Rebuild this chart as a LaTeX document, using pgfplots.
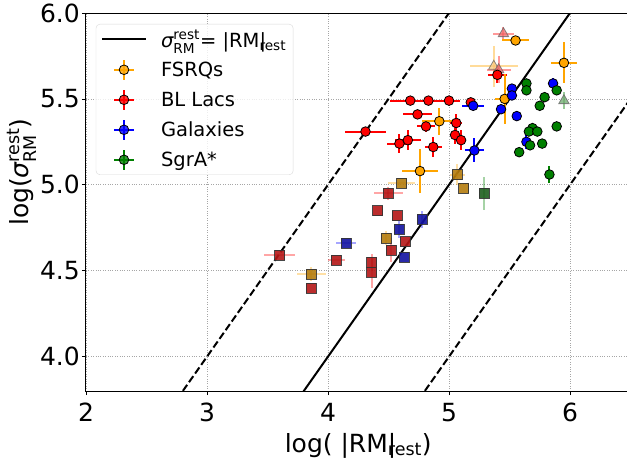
\documentclass[border=0pt]{standalone}
\usepackage{amsmath}
\usepackage{fontspec}
\setmainfont{DejaVu Sans}
\usepackage{pgfplots}
\pgfplotsset{compat=1.18}

\definecolor{mplorange}{RGB}{255,165,0}
\definecolor{mplgreen}{RGB}{0,128,0}
\definecolor{sqred}{RGB}{180,22,22}
\definecolor{sqorange}{RGB}{180,124,14}
\definecolor{sqblue}{RGB}{18,18,160}
\definecolor{sqgreen}{RGB}{30,95,30}
\definecolor{trired}{RGB}{240,110,110}
\definecolor{triorange}{RGB}{250,200,125}
\definecolor{trigreen}{RGB}{110,170,110}

\pgfplotsset{
  circ/.style={only marks, mark=*, mark size=4.8pt,
    mark options={draw=black, fill=#1, line width=0.8pt},
    error bars/.cd, x dir=both, y dir=both, x explicit, y explicit,
    error mark=none, error bar style={#1, line width=2pt}, /pgfplots/.cd},
  sq/.style 2 args={only marks, mark=square*, mark size=5pt,
    mark options={draw=black!80, fill=#1, line width=0.8pt, opacity=0.9},
    error bars/.cd, x dir=both, y dir=both, x explicit, y explicit,
    error mark=none, error bar style={#2, opacity=0.35, line width=2pt}, /pgfplots/.cd},
  tri/.style 2 args={only marks, mark=triangle*, mark size=6pt,
    mark options={draw=black!60, fill=#1, line width=0.8pt, opacity=0.75},
    error bars/.cd, x dir=both, y dir=both, x explicit, y explicit,
    error mark=none, error bar style={#2, opacity=0.4, line width=2pt}, /pgfplots/.cd},
  lineleg/.style={legend image code/.code={
    \draw[black, line width=2pt] (0pt,0pt) -- (44pt,0pt);}},
  ptleg/.style={legend image code/.code={
    \draw[#1, line width=2pt] (12pt,0pt) -- (32pt,0pt) (22pt,-10pt) -- (22pt,10pt);
    \draw[black, fill=#1, line width=0.8pt] (22pt,0pt) circle (4.8pt);}},
}
\newcommand{\rmrest}{|RM\rlap{|}$_{\text{rest}}$}

\begin{document}
\begin{tikzpicture}
\begin{axis}[
  scale only axis, width=544.5pt, height=378pt,
  xmin=2, xmax=6.5, ymin=3.8, ymax=6.0,
  xtick={2,3,4,5,6}, ytick={4.0,4.5,5.0,5.5,6.0},
  yticklabel style={/pgf/number format/.cd, fixed, fixed zerofill, precision=1},
  /pgf/number format/assume math mode=true,
  tick label style={font=\fontsize{25}{30}\selectfont, inner sep=0pt},
  xticklabel shift=8pt, yticklabel shift=2pt,
  tick align=outside, tick pos=left, major tick length=4pt,
  tick style={black, line width=0.8pt},
  axis line style={line width=1pt},
  grid=major, grid style={dotted, gray!70, line width=0.8pt},
  xlabel={log( \rmrest)},
  ylabel={log({\itshape σ}$^{\text{rest}}_{\text{RM}}$)},
  xlabel style={font=\fontsize{25}{30}\selectfont, at={(axis description cs:0.5,-0.1614)}, anchor=base},
  ylabel style={font=\fontsize{25}{30}\selectfont, at={(axis description cs:-0.1175,0.579)}, anchor=center},
  legend style={at={(axis description cs:0.018,0.971)}, anchor=north west,
    font=\fontsize{19.5}{23}\selectfont, draw=black!15, rounded corners=4pt,
    fill=white, fill opacity=0.8, text opacity=1,
    inner xsep=5pt, inner ysep=4pt, row sep=8pt,
    nodes={inner sep=2pt},
    /tikz/every odd column/.append style={column sep=12pt}},
  legend cell align=left,
]
\addlegendimage{lineleg}
\addlegendentry{{\itshape σ}$^{\text{rest}}_{\text{RM}}$= \rmrest}
\addlegendimage{ptleg=mplorange}
\addlegendentry{FSRQs}
\addlegendimage{ptleg=red}
\addlegendentry{BL Lacs}
\addlegendimage{ptleg=blue}
\addlegendentry{Galaxies}
\addlegendimage{ptleg=mplgreen}
\addlegendentry{SgrA*}

% reference lines
\addplot[black, line width=2pt, forget plot] coordinates {(3.7,3.7) (6.6,6.6)};
\addplot[black, line width=2pt, dash pattern=on 7.4pt off 3.2pt, forget plot] coordinates {(2.7,3.7) (5.1,6.1)};
\addplot[black, line width=2pt, dash pattern=on 7.4pt off 3.2pt, forget plot] coordinates {(4.7,3.7) (6.6,5.6)};

% squares
\addplot[forget plot, sq={sqred}{red}] coordinates {
 (3.60,4.59) +- (0.13,0) (3.86,4.40) +- (0,0) (4.07,4.56) +- (0.07,0)
 (4.36,4.55) +- (0,0.05) (4.36,4.49) +- (0,0.09) (4.41,4.85) +- (0,0)
 (4.50,4.95) +- (0.12,0.04) (4.57,4.82) +- (0,0) (4.64,4.67) +- (0,0)
 (4.52,4.62) +- (0,0.07)};
\addplot[forget plot, sq={sqorange}{mplorange}] coordinates {
 (3.86,4.48) +- (0.12,0.04) (4.61,5.01) +- (0.11,0) (5.07,5.06) +- (0.06,0.06)
 (5.12,4.98) +- (0,0) (4.48,4.69) +- (0,0.04)};
\addplot[forget plot, sq={sqblue}{blue}] coordinates {
 (4.15,4.66) +- (0.085,0) (4.59,4.74) +- (0,0.05) (4.78,4.80) +- (0,0.05)
 (4.63,4.58) +- (0,0)};
\addplot[forget plot, sq={sqgreen}{mplgreen}] coordinates {
 (5.29,4.95) +- (0,0.095)};

% triangles
\addplot[forget plot, tri={triorange}{mplorange}] coordinates {
 (5.37,5.69) +- (0.2,0.12)};
\addplot[forget plot, tri={trired}{red}] coordinates {
 (5.45,5.88) +- (0.09,0.04) (5.41,5.67) +- (0.1,0.08)};
\addplot[forget plot, tri={trigreen}{mplgreen}] coordinates {
 (5.95,5.49) +- (0,0.05)};

% circles
\addplot[forget plot, circ=red] coordinates {
 (4.68,5.49) +- (0.165,0) (4.83,5.49) +- (0.1,0) (5.00,5.49) +- (0.09,0)
 (5.18,5.48) +- (0,0.02) (4.74,5.41) +- (0.12,0) (4.81,5.34) +- (0.075,0.03)
 (5.06,5.36) +- (0.05,0.05) (4.31,5.31) +- (0.17,0) (5.05,5.29) +- (0,0.05)
 (5.10,5.26) +- (0.04,0.06) (4.66,5.26) +- (0.11,0.06) (4.59,5.24) +- (0.1,0.055)
 (4.87,5.22) +- (0.07,0.06) (5.40,5.64) +- (0.08,0.05)};
\addplot[forget plot, circ=mplorange] coordinates {
 (5.55,5.84) +- (0.11,0.02) (5.95,5.71) +- (0.105,0.12) (4.92,5.37) +- (0.14,0.08)
 (4.76,5.08) +- (0.145,0.13) (5.46,5.50) +- (0.08,0.145)};
\addplot[forget plot, circ=blue] coordinates {
 (5.20,5.46) +- (0.09,0) (5.21,5.20) +- (0.08,0.07) (5.52,5.56) +- (0,0)
 (5.52,5.52) +- (0,0) (5.43,5.44) +- (0.02,0) (5.56,5.40) +- (0,0.03)
 (5.86,5.59) +- (0,0.03) (5.64,5.25) +- (0,0.04)};
\addplot[forget plot, circ=mplgreen] coordinates {
 (5.64,5.59) +- (0,0) (5.64,5.55) +- (0,0) (5.89,5.55) +- (0,0)
 (5.79,5.51) +- (0,0) (5.75,5.46) +- (0,0) (5.89,5.34) +- (0,0)
 (5.69,5.33) +- (0,0) (5.66,5.31) +- (0,0) (5.73,5.31) +- (0,0)
 (5.67,5.23) +- (0,0) (5.77,5.24) +- (0,0) (5.58,5.19) +- (0,0)
 (5.83,5.06) +- (0,0.05)};
\end{axis}
\pgfresetboundingbox
\useasboundingbox (-86pt,-70pt) rectangle (541pt,391pt);
\end{tikzpicture}
\end{document}
